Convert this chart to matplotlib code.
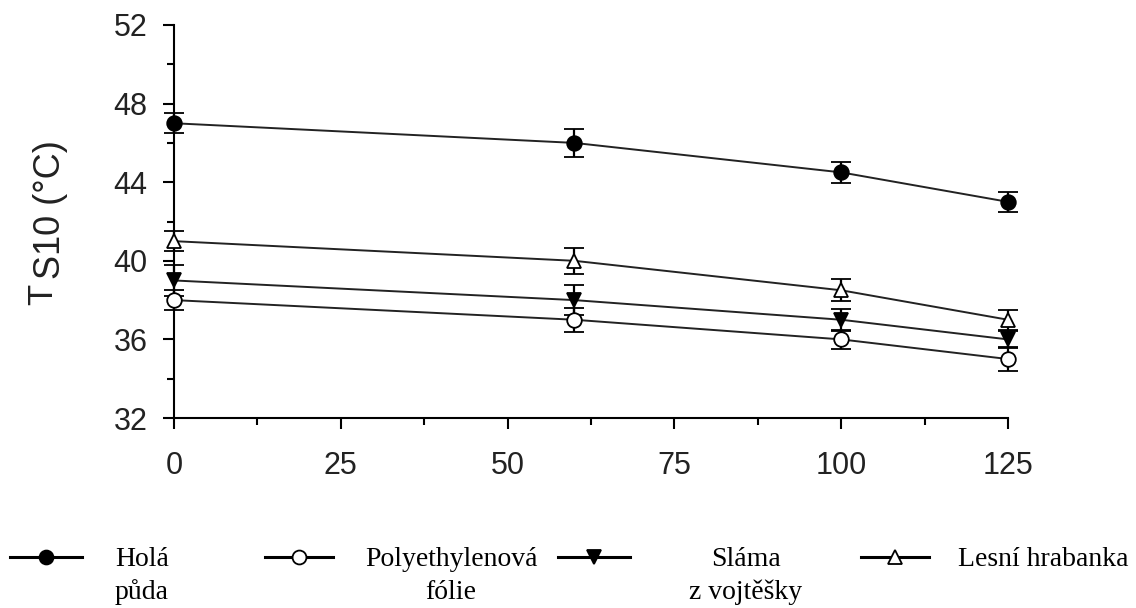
import numpy as np
import matplotlib
matplotlib.use('Agg')
import matplotlib.pyplot as plt
from matplotlib.lines import Line2D
from matplotlib.ticker import MultipleLocator

# data (hloubka / čas na ose x, teplota Ts10 na ose y)
x = [0, 60, 100, 125]

hola = [47.0, 46.0, 44.5, 43.0]
hola_err = [0.5, 0.7, 0.55, 0.5]

poly = [38.0, 37.0, 36.0, 35.0]
poly_err = [0.5, 0.6, 0.5, 0.6]

slama = [39.0, 38.0, 37.0, 36.0]
slama_err = [0.8, 0.75, 0.55, 0.45]

lesni = [41.0, 40.0, 38.5, 37.0]
lesni_err = [0.5, 0.65, 0.55, 0.5]

x_ticks = [0, 25, 50, 75, 100, 125]
y_ticks = [32, 36, 40, 44, 48, 52]

labels = ['Holá\npůda', 'Polyethylenová\nfólie', 'Sláma\nz vojtěšky', 'Lesní hrabanka']

W, H = 1136, 608
fig = plt.figure(figsize=(W / 100, H / 100), dpi=100)
ax = fig.add_axes([174 / W, 1 - 418 / H, (1008 - 174) / W, (418 - 25) / H])

styles = [
    dict(marker='o', mfc='black', mec='black'),
    dict(marker='o', mfc='white', mec='black'),
    dict(marker='v', mfc='black', mec='black'),
    dict(marker='^', mfc='white', mec='black'),
]
series = [(hola, hola_err), (poly, poly_err), (slama, slama_err), (lesni, lesni_err)]

for (y, e), st in zip(series, styles):
    ax.errorbar(x, y, yerr=e, color='#222222', lw=1.4, ms=10.5, mew=1.3,
                ecolor='black', elinewidth=1.6, capsize=7, capthick=1.6,
                clip_on=False, zorder=3, **st)

ax.set_xlim(0, 125)
ax.set_ylim(32, 52)
ax.set_xticks(x_ticks)
ax.set_yticks(y_ticks)
ax.xaxis.set_minor_locator(MultipleLocator(12.5))
ax.yaxis.set_minor_locator(MultipleLocator(2))

for s in ['top', 'right']:
    ax.spines[s].set_visible(False)
for s in ['left', 'bottom']:
    ax.spines[s].set_linewidth(1.5)

ax.tick_params(which='major', direction='out', length=8, width=1.5)
ax.tick_params(which='minor', direction='out', length=5, width=1.5)
ax.tick_params(axis='y', which='major', pad=11, labelsize=22)
ax.tick_params(axis='x', which='major', pad=16, labelsize=22)
for t in ax.get_xticklabels() + ax.get_yticklabels():
    t.set_family('Liberation Sans')
    t.set_color('#222222')

# popisek osy y: T + S10 (°C)
fig.text(43 / W, 1 - 294 / H, 'T', rotation=90, ha='center', va='center',
         fontsize=25, family='Liberation Sans', color='#222222')
fig.text(50 / W, 1 - 209.5 / H, 'S10 (°C)', rotation=90, ha='center', va='center',
         fontsize=26, family='Liberation Sans', color='#222222')

# legenda dole
line_pos = [(10, 82), (265, 333), (558, 630), (861, 929)]
text_pos = [(115, 'left'), (451, 'center'), (746, 'center'), (958, 'left')]
ly = 1 - 557 / H
for (x0, x1), st, (tx, ha), lab in zip(line_pos, styles, text_pos, labels):
    fig.add_artist(Line2D([x0 / W, x1 / W], [ly, ly], color='black', lw=2.2))
    fig.add_artist(Line2D([(x0 + x1) / 2 / W], [ly], ms=10, mew=1.3, **st))
    if '\n' in lab:
        fig.text(tx / W, 1 - 576 / H, lab, ha=ha, va='center', multialignment=ha,
                 fontsize=20, family='Liberation Serif', linespacing=1.4)
    else:
        fig.text(tx / W, 1 - 560 / H, lab, ha=ha, va='center',
                 fontsize=20, family='Liberation Serif')

fig.savefig('out.png', dpi=100)
